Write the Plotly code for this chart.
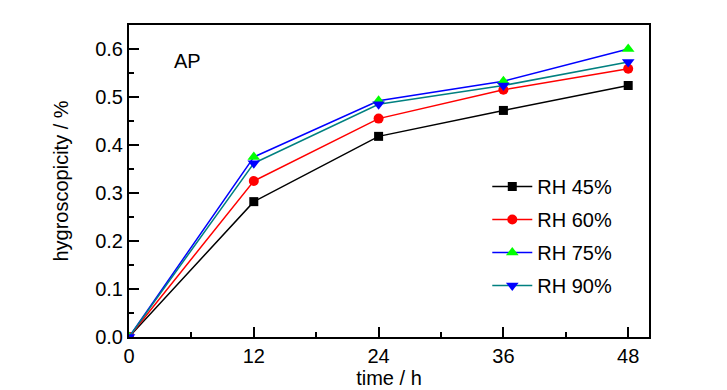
import plotly.graph_objects as go

time_h = [0, 12, 24, 36, 48]
rh45 = [0.0, 0.282, 0.418, 0.472, 0.524]
rh60 = [0.0, 0.325, 0.455, 0.515, 0.559]
rh75 = [0.0, 0.375, 0.492, 0.533, 0.600]
rh90 = [0.0, 0.362, 0.485, 0.524, 0.573]
series_names = ["RH 45%", "RH 60%", "RH 75%", "RH 90%"]
x_ticks = [0, 12, 24, 36, 48]
y_ticks = [0.0, 0.1, 0.2, 0.3, 0.4, 0.5, 0.6]

styles = [
    dict(line="#000000", marker="#000000", symbol="square", size=9),
    dict(line="#FF0000", marker="#FF0000", symbol="circle", size=10),
    dict(line="#0000FF", marker="#00FF00", symbol="triangle-up", size=11),
    dict(line="#008080", marker="#0000FF", symbol="triangle-down", size=11),
]

fig = go.Figure()
for i, (name, ys, st) in enumerate(zip(series_names, [rh45, rh60, rh75, rh90], styles)):
    fig.add_trace(go.Scatter(
        x=time_h, y=ys, name=name, mode="lines+markers", legendgroup=f"g{i}",
        line=dict(color=st["line"], width=1.5),
        marker=dict(color=st["marker"], symbol=st["symbol"], size=st["size"]),
    ))

font_family = "Arial, Liberation Sans, sans-serif"
FS = 20
axis_common = dict(
    showline=True, linecolor="black", linewidth=2, mirror=True,
    ticks="inside", ticklen=10, tickwidth=1.5, tickcolor="black",
    showgrid=False, zeroline=False, automargin=False,
    tickfont=dict(family=font_family, size=FS, color="black"),
)

fig.update_xaxes(
    range=[0, 50], tickmode="array", tickvals=x_ticks,
    ticktext=[str(v) for v in x_ticks],
    minor=dict(dtick=6, tick0=0, ticks="inside", ticklen=5, tickwidth=1.5, tickcolor="black"),
    title=dict(text="time / h", font=dict(family=font_family, size=FS, color="black"), standoff=3),
    **axis_common,
)
fig.update_yaxes(
    range=[0, 0.65], tickmode="array", tickvals=y_ticks,
    ticktext=[f"{v:.1f}" for v in y_ticks],
    minor=dict(dtick=0.05, tick0=0, ticks="inside", ticklen=5, tickwidth=1.5, tickcolor="black"),
    title=dict(text="hygroscopicity / %", font=dict(family=font_family, size=FS, color="black"), standoff=21),
    **axis_common,
)

fig.add_annotation(
    x=0.113, y=0.885, xref="paper", yref="paper", text="AP", showarrow=False,
    xanchor="center", yanchor="middle",
    font=dict(family=font_family, size=FS, color="black"),
)

fig.update_layout(
    width=727, height=390,
    margin=dict(l=121, r=86, t=17, b=61),
    paper_bgcolor="white", plot_bgcolor="white",
    font=dict(family=font_family, size=FS, color="black"),
    legend=dict(
        x=0.689, y=0.545, xanchor="left", yanchor="top",
        bgcolor="rgba(0,0,0,0)", borderwidth=0,
        font=dict(family=font_family, size=FS, color="black"),
        traceorder="grouped", tracegroupgap=4, itemwidth=40,
    ),
)

fig.write_html("out.html")
